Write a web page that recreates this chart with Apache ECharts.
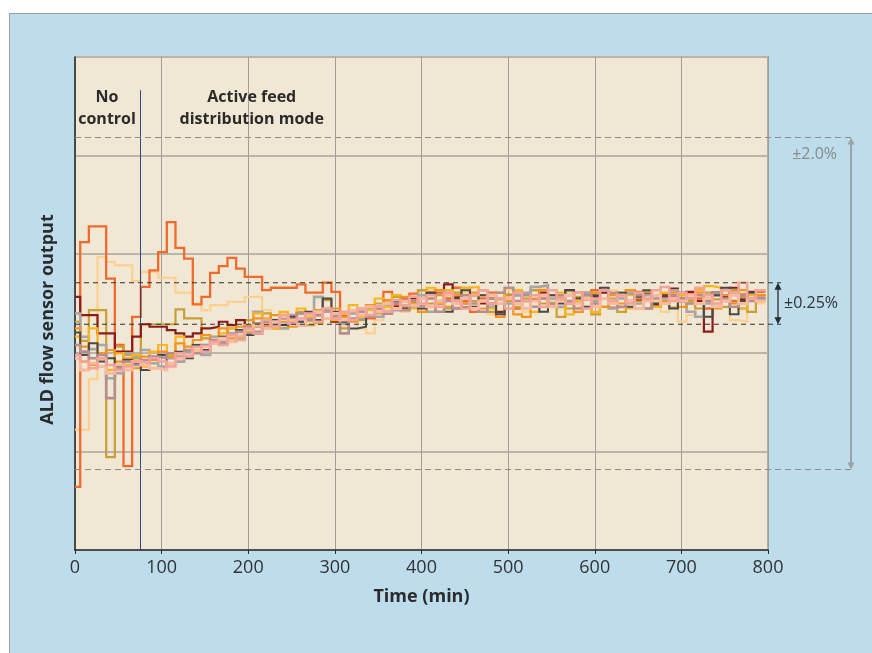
<!DOCTYPE html>
<html><head><meta charset="utf-8">
<script src="https://cdn.jsdelivr.net/npm/echarts@6/dist/echarts.min.js"></script>
<style>
html,body{margin:0;padding:0;background:#fff;}
#bg{position:absolute;left:9px;top:13px;width:863px;height:640px;background:#bddcec;border-top:1px solid #9c9c9c;border-left:1px solid #9c9c9c;box-sizing:border-box;}
#chart{position:absolute;left:0;top:0;width:872px;height:653px;}
</style></head><body>
<div id="bg"></div><div id="chart"></div>
<script>
// ---- data (deviation in %, step values held from each time until the next) ----
const times = [0,6,16,26,36,46,56,66,76,86,96,106,116,126,136,146,156,166,176,186,196,206,216,226,236,246,256,266,276,286,296,306,316,326,336,346,356,366,376,386,396,406,416,426,436,446,456,466,476,486,496,506,516,526,536,546,556,566,576,586,596,606,616,626,636,646,656,666,676,686,696,706,716,726,736,746,756,766,776,786,797];
const xTicks = [0,100,200,300,400,500,600,700,800];
const bandInner = 0.25;
const bandOuter = 2.0;
const controlStart = 75;

const runOrangeRed = [-2.21,0.74,0.93,0.93,0.30,-0.50,-1.96,-0.16,0.20,0.40,
 0.62,0.98,0.67,0.54,-0.01,0.08,0.37,0.45,0.55,0.42,
 0.32,0.32,0.16,0.19,0.19,0.19,0.23,0.13,0.13,0.25,
 0.14,-0.15,-0.20,-0.10,-0.18,-0.05,0.14,-0.02,0.06,0.12,
 0.16,-0.04,0.13,0.06,0.19,0.03,-0.10,0.06,0.13,0.00,
 0.10,-0.06,0.03,0.16,0.06,-0.04,0.10,0.00,0.13,0.05,
 0.16,0.06,-0.05,0.10,0.03,0.14,0.05,-0.04,0.11,0.08,
 0.02,0.13,0.06,-0.06,0.10,0.16,0.03,0.11,0.06,0.14];
const runPeach = [-1.52,-1.52,-0.91,0.56,0.50,0.46,0.46,0.27,0.38,0.38,
 0.31,0.31,0.13,0.13,0.00,-0.08,-0.02,-0.02,0.02,0.02,
 0.08,0.08,-0.08,-0.20,-0.28,-0.18,-0.10,-0.22,-0.12,-0.05,
 -0.20,-0.26,-0.12,-0.30,-0.36,-0.20,-0.08,0.02,-0.10,0.06,
 0.00,0.16,-0.10,0.06,-0.04,0.13,0.20,0.03,-0.13,0.06,
 0.16,0.00,-0.10,0.10,0.19,0.03,-0.06,0.13,-0.04,0.08,
 -0.13,0.06,0.16,-0.05,0.10,0.00,0.13,0.03,-0.10,0.06,
 -0.22,-0.14,0.03,0.10,-0.06,0.08,-0.20,-0.22,0.10,0.00];
const runDarkRed = [0.08,-0.14,-0.14,-0.36,-0.36,-0.58,-0.58,-0.40,-0.25,-0.28,
 -0.28,-0.32,-0.36,-0.40,-0.36,-0.30,-0.28,-0.22,-0.26,-0.20,
 -0.30,-0.36,-0.30,-0.22,-0.16,-0.19,-0.26,-0.12,-0.20,-0.10,
 -0.22,-0.16,-0.08,-0.18,-0.02,-0.06,0.04,-0.04,0.02,0.06,
 -0.04,0.13,0.00,0.23,0.08,-0.05,0.10,0.00,0.06,-0.10,
 0.03,0.10,-0.06,0.05,0.13,-0.04,0.06,0.16,0.03,-0.05,
 0.08,0.13,0.02,0.10,0.16,0.05,0.11,-0.02,0.08,0.18,
 0.06,0.14,0.03,-0.34,0.13,0.08,0.19,0.05,0.14,0.10];
const runGold = [-0.22,-0.45,-0.08,-0.08,-1.85,-0.52,-0.62,-0.66,-0.25,-0.25,
 -0.25,-0.25,-0.07,-0.18,-0.18,-0.42,-0.46,-0.40,-0.30,-0.34,
 -0.20,-0.28,-0.12,-0.30,-0.16,-0.22,-0.10,-0.26,-0.14,0.04,
 -0.22,-0.30,-0.08,-0.20,-0.14,0.00,-0.10,0.08,-0.04,0.02,
 0.16,0.00,0.10,-0.06,0.13,0.19,0.03,0.10,-0.10,0.05,
 0.11,-0.04,0.06,0.16,0.00,0.10,-0.16,-0.06,0.08,0.13,
 -0.13,-0.04,0.06,-0.10,0.11,0.03,0.14,0.00,0.08,-0.05,
 0.10,0.03,-0.06,0.13,0.05,-0.04,0.16,0.08,-0.10,0.03];
const runDarkGray = [-0.35,-0.62,-0.48,-0.70,-0.66,-0.76,-0.68,-0.72,-0.80,-0.66,
 -0.62,-0.72,-0.58,-0.66,-0.50,-0.56,-0.44,-0.40,-0.46,-0.32,
 -0.38,-0.24,-0.30,-0.20,-0.26,-0.16,-0.22,-0.10,-0.20,0.06,
 -0.10,-0.22,-0.30,-0.28,-0.14,-0.04,-0.12,0.02,-0.06,0.04,
 -0.06,0.13,0.03,-0.10,0.06,0.16,-0.04,0.10,0.00,-0.13,
 0.06,0.13,-0.06,0.03,-0.10,0.10,0.00,0.16,0.06,-0.04,
 0.10,0.19,0.03,0.13,-0.04,0.08,0.16,0.00,0.10,-0.06,
 0.13,0.06,0.00,-0.16,0.10,0.19,-0.13,0.03,0.13,0.06];
const runGray = [-0.12,-0.40,-0.55,-0.50,-0.90,-0.84,-0.60,-0.64,-0.56,-0.72,
 -0.76,-0.66,-0.70,-0.58,-0.50,-0.62,-0.40,-0.46,-0.36,-0.42,
 -0.36,-0.10,-0.28,-0.20,-0.30,-0.14,-0.22,-0.18,0.08,-0.10,
 -0.16,-0.24,-0.12,-0.18,-0.06,-0.16,-0.02,-0.08,0.04,-0.04,
 0.10,-0.10,0.03,0.13,-0.06,0.00,0.10,0.16,-0.04,0.06,
 0.00,0.10,0.13,0.20,0.22,0.06,-0.04,0.10,0.00,0.13,
 0.03,0.16,-0.06,0.06,0.13,0.00,0.10,-0.04,0.06,0.16,
 0.03,-0.10,-0.16,0.00,0.10,0.03,0.13,-0.06,0.06,0.10];
const runYellow = [-0.40,-0.70,-0.30,-0.66,-0.80,-0.60,-0.74,-0.62,-0.76,-0.58,
 -0.50,-0.62,-0.40,-0.56,-0.57,-0.57,-0.48,-0.36,-0.30,-0.40,
 -0.26,-0.12,-0.18,-0.30,-0.10,-0.20,-0.06,-0.16,-0.24,-0.08,
 -0.20,-0.12,-0.02,-0.16,-0.08,0.06,-0.04,0.10,0.02,-0.06,
 0.06,0.19,0.00,0.16,0.10,0.19,0.20,0.03,-0.06,0.13,
 0.03,0.16,0.10,-0.10,0.06,0.00,0.13,-0.13,0.03,0.10,
 -0.10,0.06,0.00,0.13,-0.06,0.10,0.03,-0.04,0.13,0.06,
 0.10,0.00,0.16,0.21,0.19,0.03,0.13,-0.06,0.10,0.16];
const runOrange = [-0.30,-0.52,-0.74,-0.60,-0.56,-0.70,-0.66,-0.78,-0.64,-0.68,
 -0.58,-0.64,-0.48,-0.52,-0.44,-0.38,-0.46,-0.30,-0.42,-0.28,
 -0.34,-0.18,-0.26,-0.14,-0.22,-0.28,-0.12,-0.20,-0.08,-0.18,
 -0.06,-0.16,-0.22,-0.10,-0.02,-0.12,0.04,-0.06,0.08,0.00,
 -0.10,0.06,0.16,-0.04,0.10,0.00,0.13,-0.06,0.06,-0.16,
 0.03,-0.13,-0.16,0.06,0.16,0.00,0.10,0.03,-0.10,0.06,
 0.13,-0.04,0.10,0.00,0.16,0.06,-0.06,0.10,0.03,0.13,
 -0.04,0.06,0.13,0.03,-0.06,0.10,0.00,0.16,0.03,0.10];
const runPink = [-0.62,-0.70,-0.78,-0.66,-0.74,-0.80,-0.76,-0.70,-0.72,-0.66,
 -0.70,-0.76,-0.60,-0.64,-0.52,-0.58,-0.46,-0.50,-0.38,-0.44,
 -0.30,-0.36,-0.20,-0.28,-0.14,-0.24,-0.18,-0.12,-0.22,-0.06,
 -0.18,-0.10,-0.20,-0.06,-0.14,-0.04,-0.10,0.04,-0.02,0.08,
 0.00,0.10,-0.04,0.13,0.03,-0.06,0.10,0.16,0.00,0.06,
 -0.06,0.13,0.03,0.10,-0.04,0.16,0.06,0.00,0.13,-0.06,
 0.06,0.16,0.03,0.10,0.00,0.13,0.06,0.16,0.20,0.03,
 0.13,0.06,0.19,0.10,0.00,0.16,0.13,0.25,0.06,0.16];
const runMauve = [-0.50,-0.58,-0.66,-0.62,-1.14,-0.78,-0.70,-0.74,-0.68,-0.64,
 -0.66,-0.60,-0.64,-0.56,-0.60,-0.50,-0.44,-0.48,-0.38,-0.34,
 -0.28,-0.34,-0.22,-0.26,-0.18,-0.24,-0.12,-0.20,-0.14,-0.08,
 -0.14,-0.36,-0.18,-0.10,-0.16,-0.06,-0.12,0.00,-0.08,0.04,
 -0.04,0.06,-0.10,0.03,-0.06,0.10,0.00,-0.10,0.06,0.13,
 0.19,0.03,0.10,-0.04,0.06,0.00,0.10,0.03,-0.06,0.10,
 0.00,0.06,0.13,-0.04,0.03,0.10,-0.06,0.06,0.00,0.10,
 0.06,0.00,0.10,0.03,0.13,0.06,-0.04,0.10,0.03,0.06];
const runSalmon = [-0.66,-0.80,-0.72,-0.76,-0.84,-0.74,-0.80,-0.70,-0.74,-0.78,
 -0.80,-0.72,-0.66,-0.62,-0.56,-0.52,-0.48,-0.42,-0.46,-0.38,
 -0.32,-0.26,-0.30,-0.22,-0.16,-0.20,-0.26,-0.14,-0.10,-0.18,
 -0.12,-0.20,-0.08,-0.14,-0.04,-0.10,0.00,-0.06,0.02,-0.02,
 0.06,-0.04,0.03,0.10,0.00,0.06,-0.06,0.03,0.10,0.00,
 0.06,0.00,-0.06,0.03,0.10,-0.04,0.03,0.10,0.00,0.06,
 -0.04,0.06,0.00,0.10,0.03,-0.06,0.03,0.10,0.00,0.06,
 0.03,0.10,0.00,0.06,-0.04,0.03,0.10,0.00,0.06,0.03];

const runs = [
  {name:'Peach', data:runPeach, color:'#fdd08e', width:2.2},
  {name:'OrangeRed', data:runOrangeRed, color:'#f26a2b', width:2.3},
  {name:'Gold', data:runGold, color:'#c9a035', width:2.2},
  {name:'DarkRed', data:runDarkRed, color:'#8c1c1c', width:2.2},
  {name:'Gray', data:runGray, color:'#a6a6a6', width:2.6},
  {name:'Yellow', data:runYellow, color:'#fbb51b', width:2.2},
  {name:'Orange', data:runOrange, color:'#f6921e', width:2.2},
  {name:'DarkGray', data:runDarkGray, color:'#4a4a4a', width:2.0},
  {name:'Mauve', data:runMauve, color:'#b58f8f', width:2.6},
  {name:'Salmon', data:runSalmon, color:'#f8bb9e', width:3.0},
  {name:'Pink', data:runPink, color:'#f3a39a', width:2.5}
];

const FONT = "'Open Sans', 'Noto Sans', sans-serif";
const yMin = -2.97, yMax = 2.97, yInterval = 1.188;

const chart = echarts.init(document.getElementById('chart'), null, {renderer:'canvas'});

const series = runs.map((r, idx) => ({
  name: r.name, type: 'line', step: 'end', showSymbol: false, symbol: 'none',
  data: times.map((t, i) => [t, r.data[Math.min(i, r.data.length - 1)]]),
  lineStyle: {color: r.color, width: r.width, join: 'miter'},
  itemStyle: {color: r.color},
  z: 3 + idx, silent: true, clip: true
}));
series[0].markLine = {
  silent: true, symbol: ['none','none'], animation: false,
  label: {show: false},
  lineStyle: {color: '#2d4a7c', width: 1, type: 'solid'},
  data: [[{coord: [controlStart, 2.57]}, {coord: [controlStart, yMin]}]]
};

const option = {
  animation: false,
  backgroundColor: 'transparent',
  textStyle: {fontFamily: FONT},
  grid: {left: 75, right: 104, top: 57, bottom: 103, show: true,
         backgroundColor: '#f0e7d4', borderColor: '#b3ada5', borderWidth: 2,
         outerBoundsMode: 'none', containLabel: false},
  xAxis: {
    type: 'value', min: 0, max: 800, interval: 100,
    name: 'Time (min)', nameLocation: 'middle', nameGap: 38,
    nameTextStyle: {fontSize: 18, fontWeight: 'bold', color: '#2b2b2b', fontFamily: FONT},
    axisLine: {show: true, onZero: false, lineStyle: {color: '#2b2b2b', width: 1.5}},
    axisTick: {show: true, length: 4, lineStyle: {color: '#2b2b2b'}},
    axisLabel: {fontSize: 18, color: '#333', margin: 9, fontFamily: FONT,
                formatter: v => xTicks.includes(v) ? String(v) : ''},
    splitLine: {show: true, lineStyle: {color: '#a19d98', width: 1}}
  },
  yAxis: {
    type: 'value', min: yMin, max: yMax, interval: yInterval,
    name: 'ALD flow sensor output', nameLocation: 'middle', nameGap: 18,
    nameTextStyle: {fontSize: 18, fontWeight: 'bold', color: '#2b2b2b', fontFamily: FONT, padding: [0, 32, 0, 0]},
    axisLine: {show: true, onZero: false, lineStyle: {color: '#2b2b2b', width: 1.5}},
    axisTick: {show: false},
    axisLabel: {show: false},
    splitLine: {show: true, lineStyle: {color: '#bab4ab', width: 2}}
  },
  series: series
};
chart.setOption(option);

// ---- annotations placed through the axes' scales ----
const px = (x, y) => chart.convertToPixel({gridIndex: 0}, [x, y]);
const x0 = px(0, 0)[0];
const xEnd = px(800, 0)[0];
const yIn1 = px(0, bandInner)[1], yIn2 = px(0, -bandInner)[1];
const yOut1 = px(0, bandOuter)[1], yOut2 = px(0, -bandOuter)[1];
const innerX = xEnd + 10, outerX = xEnd + 83;

function arrow(x, yTop, yBot, color, lw) {
  return [
    {type: 'line', shape: {x1: x, y1: yTop + 3, x2: x, y2: yBot - 3}, style: {stroke: color, lineWidth: lw}, z: 60},
    {type: 'polygon', shape: {points: [[x, yTop], [x - 3.5, yTop + 7], [x + 3.5, yTop + 7]]}, style: {fill: color}, z: 60},
    {type: 'polygon', shape: {points: [[x, yBot], [x - 3.5, yBot - 7], [x + 3.5, yBot - 7]]}, style: {fill: color}, z: 60}
  ];
}

const g = [
  {type: 'line', shape: {x1: x0, y1: yOut1, x2: outerX + 4, y2: yOut1}, style: {stroke: '#8d8d8d', lineWidth: 1.2, lineDash: [6, 4]}, z: 55},
  {type: 'line', shape: {x1: x0, y1: yOut2, x2: outerX + 4, y2: yOut2}, style: {stroke: '#8d8d8d', lineWidth: 1.2, lineDash: [6, 4]}, z: 55},
  {type: 'line', shape: {x1: x0, y1: yIn1, x2: innerX + 3, y2: yIn1}, style: {stroke: '#333', lineWidth: 1.2, lineDash: [5, 4]}, z: 55},
  {type: 'line', shape: {x1: x0, y1: yIn2, x2: innerX + 3, y2: yIn2}, style: {stroke: '#333', lineWidth: 1.2, lineDash: [5, 4]}, z: 55},
  ...arrow(innerX, yIn1, yIn2, '#2b2b2b', 1.3),
  ...arrow(outerX, yOut1, yOut2, '#9ea2a6', 2),
  {type: 'text', x: innerX + 6, y: (yIn1 + yIn2) / 2, z: 60,
   style: {text: '±0.25%', fill: '#333', font: "16px 'Open Sans', sans-serif", align: 'left', verticalAlign: 'middle'}},
  {type: 'text', x: outerX - 14, y: yOut1 + 17, z: 60,
   style: {text: '±2.0%', fill: '#8a8a8a', font: "16px 'Open Sans', sans-serif", align: 'right', verticalAlign: 'middle'}},
  {type: 'text', x: px(37, 0)[0], y: 86, z: 60,
   style: {text: 'No\ncontrol', fill: '#2b2b2b', font: "bold 16px 'Open Sans', sans-serif", align: 'center', verticalAlign: 'top', lineHeight: 22}},
  {type: 'text', x: px(204, 0)[0], y: 86, z: 60,
   style: {text: 'Active feed\ndistribution mode', fill: '#2b2b2b', font: "bold 16px 'Open Sans', sans-serif", align: 'center', verticalAlign: 'top', lineHeight: 22}}
];
chart.setOption({graphic: g});
</script></body></html>
